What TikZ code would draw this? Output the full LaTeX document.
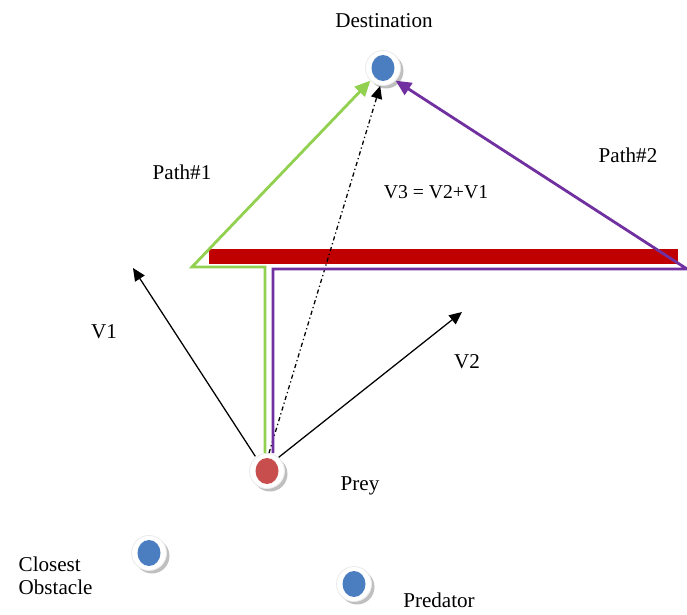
\documentclass[tikz,border=0pt]{standalone}
\usepackage{fontspec}
\setmainfont{Liberation Serif}
\usetikzlibrary{arrows.meta,positioning}
\tikzset{
  ball/.style={circle,minimum size=35*0.025cm,inner sep=0pt,fill=white,draw=black!8,line width=0.6pt},
  lbl/.style={font=\fontsize{15}{16}\selectfont,inner sep=1pt},
  vec/.style={-{Triangle[length=9pt,width=8pt]},line width=0.9pt},
  pth/.style={-{Triangle[length=11pt,width=10pt]},line width=2pt}
}
\definecolor{ballblue}{RGB}{74,126,193}
\definecolor{ballred}{RGB}{200,78,78}
\definecolor{pathgreen}{RGB}{146,208,80}
\definecolor{pathpurple}{RGB}{112,48,160}
\definecolor{barred}{RGB}{192,0,0}
\newcommand{\target}[3]{%
  \fill[black!25] (#2)++(3,3) circle (17.5);
  \node[ball] (#1) at (#2) {};
  \fill[#3] (#1) ellipse (11.5 and 13);}
\begin{document}
\begin{tikzpicture}[x=0.025cm,y=-0.025cm]
\useasboundingbox (0,0) rectangle (687,615);
% obstacle bar
\fill[barred] (209,249) rectangle (678,264);
% circles
\target{dest}{383,68}{ballblue}
\target{prey}{267,471}{ballred}
\target{obst}{149,553}{ballblue}
\target{pred}{354,584}{ballblue}
% corners of the two paths
\coordinate (g1) at (265,267); \coordinate (g2) at (192,267);
\coordinate (p1) at (273,269); \coordinate (p2) at (687,269);
\coordinate (v1) at (133,268); \coordinate (v2) at (462,312);
% velocity vectors
\draw[vec] (prey.north west)++(1,-2) -- (v1);
\draw[vec] (prey.north east)++(-1,-1) -- (v2);
\draw[vec,dash dot] (prey.north)++(2,0) -- ([xshift=-2]dest.south);
% paths
\draw[pth,pathgreen] (g1 |- prey.north) -- (g1) -- (g2) -- (dest.south west);
\draw[pth,pathpurple] (p1 |- prey.north) -- (p1) -- (p2) -- (dest.south east);
% labels
\node[lbl] at (384,21) {Destination};
\node[lbl] at (182,172) {Path\#1};
\node[lbl] at (628,155) {Path\#2};
\node[lbl,font=\fontsize{14}{16}\selectfont] at (436,192) {V3 = V2+V1};
\node[lbl] at (104,332) {V1};
\node[lbl] at (467,362) {V2};
\node[lbl] at (360,486) {Prey};
\node[lbl,align=left,anchor=west] at (17,576) {Closest\\Obstacle};
\node[lbl] at (439,600) {Predator};
\end{tikzpicture}
\end{document}
